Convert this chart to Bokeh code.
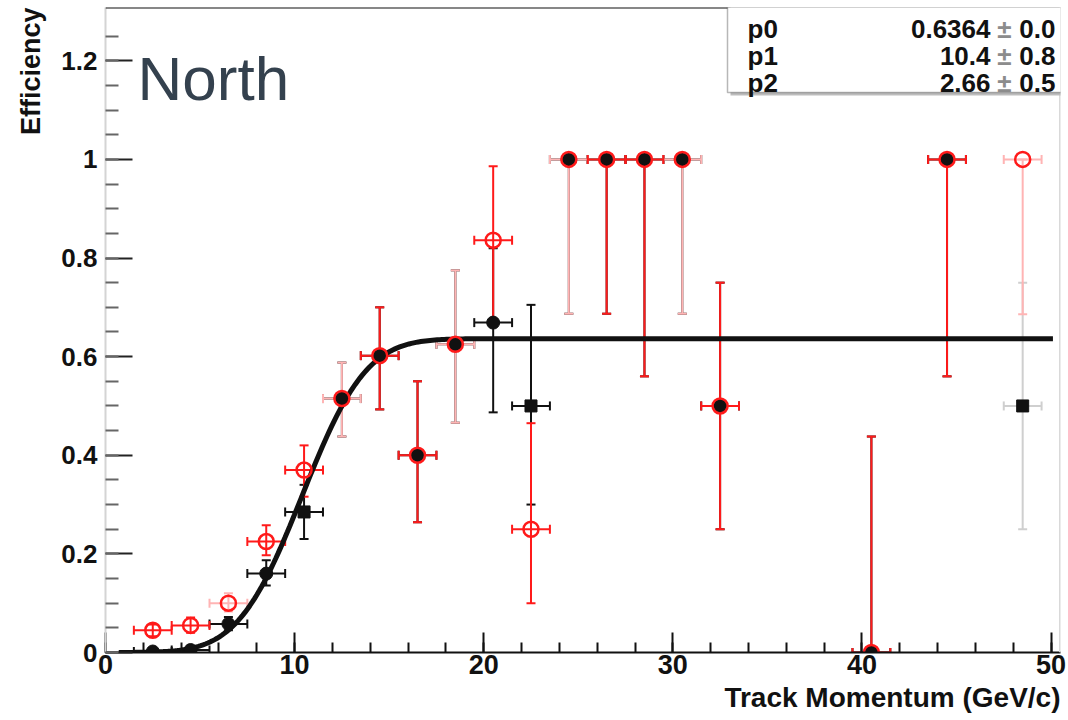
import math

import numpy as np
from bokeh.embed import file_html
from bokeh.models import (BoxAnnotation, ColumnDataSource, FixedTicker, Label,
                          Range1d, Span, TeeHead, Title, Whisker)
from bokeh.plotting import figure
from bokeh.resources import INLINE

# ---------------------------------------------------------------------------
# Efficiency vs track momentum, 2 GeV/c bins (bin centre, efficiency, lower, upper)
# ---------------------------------------------------------------------------
BIN_HALF_WIDTH = 1.0

# red open markers, solid red error bars
red_a_x = [2.5, 4.5, 8.5, 10.5, 14.5, 16.5, 20.5, 22.5, 26.5, 28.5, 32.5, 40.5, 44.5]
red_a_y = [0.045, 0.055, 0.225, 0.370, 0.602, 0.400, 0.836, 0.250, 1.0, 1.0, 0.500, 0.0, 1.0]
red_a_lo = [0.033, 0.040, 0.197, 0.316, 0.493, 0.264, 0.673, 0.100, 0.687, 0.560, 0.250, 0.0, 0.560]
red_a_hi = [0.057, 0.071, 0.258, 0.420, 0.700, 0.550, 0.986, 0.465, 1.0, 1.0, 0.750, 0.438, 1.0]

# red open markers, faint error bars
red_b_x = [6.5, 12.5, 18.5, 24.5, 30.5, 48.5]
red_b_y = [0.100, 0.515, 0.625, 1.0, 1.0, 1.0]
red_b_lo = [0.083, 0.438, 0.466, 0.687, 0.687, 0.686]
red_b_hi = [0.120, 0.588, 0.775, 1.0, 1.0, 1.0]

# black filled circles
blk_c_x = [2.5, 4.5, 6.5, 8.5, 12.5, 14.5, 16.5, 18.5, 20.5, 24.5, 26.5, 28.5, 30.5, 32.5, 40.5, 44.5]
blk_c_y = [0.002, 0.005, 0.058, 0.160, 0.515, 0.602, 0.400, 0.625, 0.669, 1.0, 1.0, 1.0, 1.0, 0.500, 0.0, 1.0]
blk_c_lo = [0.0, 0.0, 0.045, 0.136, 0.438, 0.493, 0.264, 0.466, 0.487, 0.687, 0.687, 0.560, 0.687, 0.250, 0.0, 0.560]
blk_c_hi = [0.008, 0.012, 0.072, 0.187, 0.588, 0.700, 0.550, 0.775, 0.820, 1.0, 1.0, 1.0, 1.0, 0.750, 0.438, 1.0]

# black squares, black error bars
blk_s_x = [10.5, 22.5]
blk_s_y = [0.285, 0.500]
blk_s_lo = [0.230, 0.300]
blk_s_hi = [0.340, 0.705]

# black squares, grey error bars
blk_t_x = [48.5]
blk_t_y = [0.500]
blk_t_lo = [0.250]
blk_t_hi = [0.750]

# fit parameters (p0 * Gaussian CDF with mean p1, sigma p2)
p0, p1, p2 = 0.6364, 10.4, 2.66
fit_range = (0.7, 50.1)
fit_names = ["p0", "p1", "p2"]
fit_values = ["0.6364", "10.4", "2.66"]
fit_errors = ["0.0", "0.8", "0.5"]

y_ticks = [0.0, 0.2, 0.4, 0.6, 0.8, 1.0, 1.2]
y_tick_labels = ["0", "0.2", "0.4", "0.6", "0.8", "1", "1.2"]
x_ticks = [0, 10, 20, 30, 40, 50]

X0, X1 = 0.0, 50.5
Y0, Y1 = 0.0, 1.308

# frame placement on the canvas (pixels)
FL, FR, FT, FB = 105, 1060, 7, 652
W, H = 1068, 720

RED = "#ff1a1a"
PINK = "#ffb4b4"
GREY = "#cfcfcf"
BLACK = "#111111"
FONT = "Liberation Sans"


def dx(px):
    return X0 + (px - FL) * (X1 - X0) / (FR - FL)


def dy(py):
    return Y1 - (py - FT) * (Y1 - Y0) / (FB - FT)


p = figure(width=W, height=H, x_range=Range1d(X0, X1), y_range=Range1d(Y0, Y1),
           output_backend="svg", toolbar_location=None,
           min_border_left=FL, min_border_right=W - FR,
           min_border_top=FT, min_border_bottom=H - FB)
p.outline_line_color = None
p.grid.visible = False
p.background_fill_color = "white"
p.border_fill_color = "white"

# axes in ROOT style: ticks inside the frame
p.xaxis.ticker = FixedTicker(ticks=x_ticks, minor_ticks=list(np.arange(0, 51, 2)))
p.yaxis.ticker = FixedTicker(ticks=y_ticks, minor_ticks=list(np.round(np.arange(0, 1.26, 0.05), 2)))
p.yaxis.major_label_overrides = {t: s for t, s in zip(y_ticks, y_tick_labels)}

for ax in (p.xaxis[0], p.yaxis[0]):
    ax.major_tick_out = 0
    ax.minor_tick_out = 0
    ax.major_tick_line_width = 2
    ax.minor_tick_line_width = 2
    ax.major_label_text_font = FONT
    ax.major_label_text_font_style = "bold"
    ax.major_label_text_color = BLACK

p.xaxis.major_tick_in = 20
p.xaxis.minor_tick_in = 10
p.xaxis.axis_line_width = 2
p.xaxis.axis_line_color = BLACK
p.xaxis.major_tick_line_color = BLACK
p.xaxis.minor_tick_line_color = BLACK
p.xaxis.major_label_text_font_size = "27px"
p.xaxis.major_label_standoff = 2

p.yaxis.major_tick_in = 27
p.yaxis.minor_tick_in = 13
p.yaxis.axis_line_width = 2
p.yaxis.axis_line_color = "#d4d4d4"
p.yaxis.major_tick_line_color = "#222222"
p.yaxis.minor_tick_line_color = "#666666"
p.yaxis.major_label_text_font_size = "26px"
p.yaxis.major_label_standoff = 8

# axis titles, flush with the far end of each axis
p.add_layout(Title(text="Track Momentum (GeV/c)", align="right", text_font=FONT,
                   text_font_style="bold", text_font_size="28px", text_color=BLACK,
                   standoff=7), "below")
p.add_layout(Title(text="Efficiency", align="right", text_font=FONT,
                   text_font_style="bold", text_font_size="27px", text_color=BLACK,
                   standoff=26), "left")

# frame border: black top, light grey right
p.add_layout(Span(location=Y1, dimension="width", line_color=BLACK, line_width=2))
p.add_layout(Span(location=X1, dimension="height", line_color="#d9d9d9", line_width=3))


def add_errors(xs, ys, lo, hi, color, width=2):
    src = ColumnDataSource(dict(x=xs, y=ys, lo=lo, hi=hi,
                                xl=[v - BIN_HALF_WIDTH for v in xs],
                                xh=[v + BIN_HALF_WIDTH for v in xs]))
    for base, lower, upper, dim in (("x", "lo", "hi", "height"), ("y", "xl", "xh", "width")):
        p.add_layout(Whisker(source=src, base=base, lower=lower, upper=upper, dimension=dim,
                             line_color=color, line_width=width,
                             upper_head=TeeHead(size=9, line_color=color, line_width=width),
                             lower_head=TeeHead(size=9, line_color=color, line_width=width)))


add_errors(blk_t_x, blk_t_y, blk_t_lo, blk_t_hi, GREY)
add_errors(blk_c_x, blk_c_y, blk_c_lo, blk_c_hi, BLACK)
add_errors(blk_s_x, blk_s_y, blk_s_lo, blk_s_hi, BLACK)
add_errors(red_b_x, red_b_y, red_b_lo, red_b_hi, PINK)
add_errors(red_a_x, red_a_y, red_a_lo, red_a_hi, RED)

# fitted turn-on curve
fx = np.linspace(fit_range[0], fit_range[1], 400)
fy = [p0 * 0.5 * (1.0 + math.erf((v - p1) / (math.sqrt(2.0) * p2))) for v in fx]
p.line(fx, fy, line_color=BLACK, line_width=5)

# markers
p.scatter(blk_c_x, blk_c_y, marker="circle", size=13, color=BLACK)
p.scatter(blk_s_x + blk_t_x, blk_s_y + blk_t_y, marker="square", size=12, color=BLACK)
p.scatter(red_a_x + red_b_x, red_a_y + red_b_y, marker="circle", size=15,
          fill_color=None, line_color=RED, line_width=2.5)

# fit statistics box
p.add_layout(BoxAnnotation(left=dx(730), right=dx(1090), top=dy(-20), bottom=dy(95),
                           fill_color="#bdbdbd", fill_alpha=1.0, line_color=None))
p.add_layout(BoxAnnotation(left=dx(727), right=dx(1090), top=dy(-20), bottom=dy(92),
                           fill_color="white", fill_alpha=1.0, line_color=BLACK, line_width=1.5))

row_baselines = [28, 55, 82]
for name, val, err, base_px in zip(fit_names, fit_values, fit_errors, row_baselines):
    common = dict(y=dy(base_px), text_font=FONT, text_font_style="bold",
                  text_font_size="26px", text_baseline="alphabetic")
    p.add_layout(Label(x=dx(747), text=name, text_color=BLACK, **common))
    p.add_layout(Label(x=dx(990), text=val, text_align="right", text_color=BLACK, **common))
    p.add_layout(Label(x=dx(1004), text="\u00b1", text_align="center", text_color="#8c8c8c", **common))
    p.add_layout(Label(x=dx(1055), text=err, text_align="right", text_color=BLACK, **common))

# panel tag
p.add_layout(Label(x=dx(137), y=dy(78), text="North", text_font=FONT,
                   text_font_size="62px", text_color="#34414e", text_baseline="alphabetic"))

open("out.html", "w").write(file_html(p, INLINE))
